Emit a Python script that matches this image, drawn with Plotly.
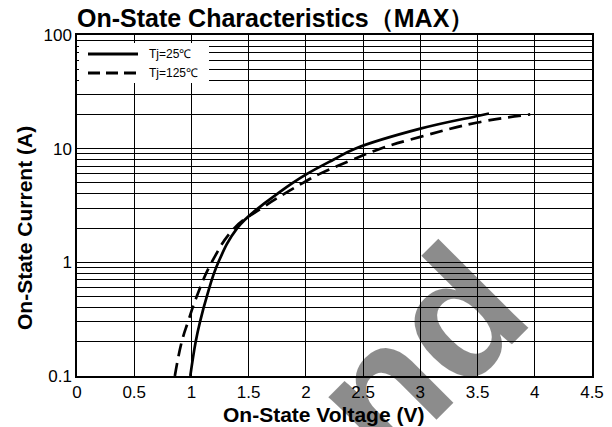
import plotly.graph_objects as go

# Data
v_25 = [0.99, 1.037, 1.075, 1.134, 1.235, 1.40, 1.585, 1.75, 1.885, 2.01, 2.24, 2.43, 3.0, 3.5, 3.6]
i_25 = [0.1, 0.2, 0.3, 0.5, 1.0, 2.0, 3.0, 4.0, 5.0, 6.0, 8.0, 10.0, 15.0, 19.4, 20.4]
v_125 = [0.855, 0.915, 0.97, 1.046, 1.177, 1.375, 1.615, 1.81, 1.975, 2.12, 2.41, 2.65, 3.0, 3.5, 3.96]
i_125 = [0.1, 0.2, 0.3, 0.5, 1.0, 2.0, 3.0, 4.0, 5.0, 6.0, 8.0, 10.0, 12.7, 17.0, 20.0]

x_ticks = [0, 0.5, 1, 1.5, 2, 2.5, 3, 3.5, 4, 4.5]
x_tick_labels = ["0", "0.5", "1", "1.5", "2", "2.5", "3", "3.5", "4", "4.5"]
y_ticks = [0.1, 1, 10, 100]
y_tick_labels = ["0.1", "1", "10", "100"]

names = ["Tj=25℃", "Tj=125℃"]

FONT = "Liberation Sans, Arial, sans-serif"

fig = go.Figure()
fig.add_trace(go.Scatter(x=v_25, y=i_25, mode="lines", name=names[0],
                         line=dict(color="black", width=2.7, shape="spline", smoothing=1.2),
                         showlegend=False))
fig.add_trace(go.Scatter(x=v_125, y=i_125, mode="lines", name=names[1],
                         line=dict(color="black", width=2.7, dash="13px,7px", shape="spline", smoothing=1.2),
                         showlegend=False))

L, R, T, B = 77, 20, 35, 51
W, H = 612, 427
pw, ph = W - L - R, H - T - B

def px(x):
    return (x - L) / pw

def py(y):
    return (H - B - y) / ph

# manual legend
fig.add_shape(type="rect", xref="paper", yref="paper",
              x0=px(79), x1=px(209), y0=py(83), y1=py(43),
              fillcolor="white", line=dict(width=0), layer="above")
fig.add_shape(type="line", xref="paper", yref="paper",
              x0=px(88), x1=px(138), y0=py(54), y1=py(54),
              line=dict(color="black", width=3), layer="above")
fig.add_shape(type="line", xref="paper", yref="paper",
              x0=px(88), x1=px(138), y0=py(73), y1=py(73),
              line=dict(color="black", width=3, dash="12px,6px"), layer="above")
for name, yy in zip(names, [54, 73]):
    fig.add_annotation(xref="paper", yref="paper", x=px(147), y=py(yy),
                       text=name, showarrow=False, xanchor="left", yanchor="middle",
                       font=dict(family=FONT, size=12, color="black"))

# axis titles
fig.add_annotation(xref="paper", yref="paper", x=px(323), y=py(415),
                   text="On-State Voltage (V)", showarrow=False,
                   xanchor="center", yanchor="middle",
                   font=dict(family=FONT, size=21, color="black", weight="bold"))
fig.add_annotation(xref="paper", yref="paper", x=px(25), y=py(228),
                   text="On-State Current (A)", showarrow=False, textangle=-90,
                   xanchor="center", yanchor="middle",
                   font=dict(family=FONT, size=21, color="black", weight="bold"))

# watermark
fig.add_annotation(xref="paper", yref="paper", x=px(418), y=py(352),
                   text="nd", showarrow=False, textangle=-45,
                   xanchor="center", yanchor="middle",
                   font=dict(family=FONT, size=175, color="rgba(0,0,0,0.45)", weight="bold"))

fig.update_layout(
    width=W, height=H,
    margin=dict(l=L, r=R, t=T, b=B, autoexpand=False),
    paper_bgcolor="white", plot_bgcolor="white",
    title=dict(text="On-State Characteristics（MAX）", x=77 / W, xref="container",
               xanchor="left", y=1 - 18 / H, yanchor="middle",
               font=dict(family=FONT, size=25, color="black", weight="bold")),
    font=dict(family=FONT, color="black"),
)

fig.update_xaxes(
    range=[0, 4.5], tickvals=x_ticks, ticktext=x_tick_labels,
    showgrid=True, gridcolor="black", gridwidth=1,
    showline=True, linecolor="black", linewidth=1.5, mirror=True,
    ticks="", tickfont=dict(family=FONT, size=17, color="black"),
    zeroline=False, automargin=False,
)
fig.update_yaxes(
    type="log", range=[-1, 2], tickvals=y_ticks, ticktext=y_tick_labels,
    showgrid=True, gridcolor="black", gridwidth=1,
    minor=dict(dtick="D1", showgrid=True, gridcolor="black", gridwidth=1, ticks=""),
    showline=True, linecolor="black", linewidth=1.5, mirror=True,
    ticks="", tickfont=dict(family=FONT, size=17, color="black"),
    zeroline=False, automargin=False,
)

fig.write_html("out.html", config={"displayModeBar": False},
               post_script="document.body.style.margin='0';document.body.style.padding='0';")
